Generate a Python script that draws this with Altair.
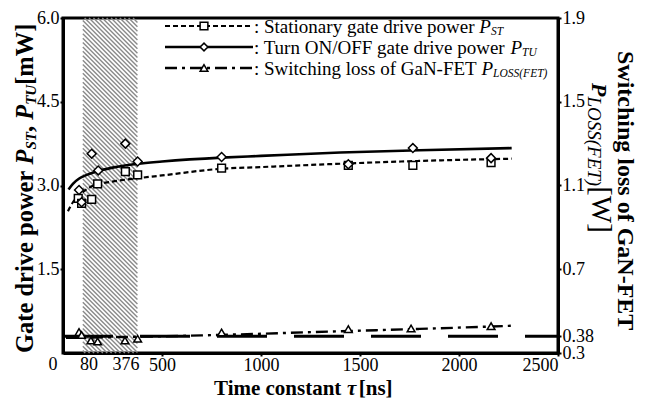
import math
import altair as alt
import pandas as pd

FONT = "Liberation Serif"

# ---------------- data ----------------
tau_st_pts = [77, 94, 145, 175, 315, 377, 801, 1441, 1767, 2162]
p_st_pts = [2.77, 2.68, 2.75, 3.03, 3.25, 3.19, 3.31, 3.36, 3.36, 3.41]
tau_tu_pts = [81, 94, 145, 178, 315, 377, 801, 1441, 1767, 2162]
p_tu_pts = [2.92, 2.70, 3.57, 3.27, 3.75, 3.43, 3.51, 3.38, 3.67, 3.49]
tau_loss_pts = [81, 94, 141, 175, 313, 377, 801, 1441, 1758, 2162]
p_loss_pts = [0.400, 0.386, 0.360, 0.355, 0.360, 0.368, 0.398, 0.414, 0.417, 0.428]

tau_st_fit = [25, 50, 80, 115, 153, 250, 377, 500, 800, 1000, 1400, 1800, 2266]
p_st_fit = [2.54, 2.70, 2.82, 2.92, 3.00, 3.07, 3.13, 3.18, 3.30, 3.33, 3.39, 3.44, 3.48]
tau_tu_fit = [28, 50, 80, 120, 160, 250, 377, 500, 800, 1000, 1400, 1800, 2266]
p_tu_fit = [2.93, 3.03, 3.12, 3.19, 3.24, 3.32, 3.39, 3.43, 3.50, 3.53, 3.59, 3.63, 3.67]
tau_loss_fit = [15, 200, 400, 700, 1000, 1400, 1800, 2266]
p_loss_fit = [0.372, 0.375, 0.378, 0.384, 0.392, 0.404, 0.415, 0.430]

ref_loss = [0.38]
shade_tau = [100, 376]

x_ticks = [500, 1000, 1500, 2000, 2500]
extra_x_labels = ["0", "80", "376"]
yl_ticks = [1.5, 3.0, 4.5, 6.0]
yr_ticks = [0.3, 0.38, 0.7, 1.1, 1.5, 1.9]

XDOM = [0, 2500]
YLDOM = [0, 6]
YRDOM = [0.3, 1.9]

# ---------------- layout ----------------
W, H = 495, 335
TOP = 10                     # padding above the plot area
PY = -(TOP + 8)              # add to a page y to get a plot y
xs = alt.Scale(domain=XDOM, nice=False, zero=False)
ysl = alt.Scale(domain=YLDOM, nice=False, zero=False)
ysr = alt.Scale(domain=YRDOM, nice=False, zero=False)

# font metrics (Times-compatible) for composing rich text
REG = {" ": 250, ":": 278, "/": 278, "-": 333, "[": 333, "]": 333, "(": 333, ")": 333,
       "S": 556, "T": 611, "O": 722, "N": 722, "F": 556, "G": 722, "E": 611, "W": 944,
       "a": 444, "c": 444, "d": 500, "e": 444, "f": 333, "g": 500, "h": 500, "i": 278,
       "l": 278, "n": 500, "o": 500, "p": 500, "r": 333, "s": 389, "t": 278, "u": 500,
       "v": 500, "w": 722, "y": 500}
BOLD = {" ": 250, ",": 250, "-": 333, "[": 333, "]": 333, "G": 778, "N": 722, "F": 611,
        "E": 667, "T": 667, "S": 556, "W": 1000, "a": 500, "c": 444, "d": 556, "e": 444,
        "f": 333, "g": 500, "h": 556, "i": 278, "l": 278, "m": 833, "n": 556, "o": 500,
        "p": 556, "r": 444, "s": 389, "t": 333, "v": 500, "w": 722}
ITAL = {"P": 611, "S": 500, "T": 556, "U": 722, "L": 556, "O": 722, "F": 611, "E": 611,
        "(": 333, ")": 333}
BITAL = {"P": 611, "S": 556, "T": 611, "U": 722, "τ": 560}


def tw(s, weight, style, size):
    if weight == "bold" and style == "italic":
        tab = BITAL
    elif weight == "bold":
        tab = BOLD
    elif style == "italic":
        tab = ITAL
    else:
        tab = REG
    return sum(tab.get(ch, 500) for ch in s) * size / 1000.0


def txt(s, x, y, size, weight="normal", style="normal", angle=0, align="left",
        baseline="alphabetic"):
    return alt.Chart(pd.DataFrame({"t": [s]})).mark_text(
        font=FONT, fontSize=size, fontWeight=weight, fontStyle=style, angle=angle,
        align=align, baseline=baseline, color="black"
    ).encode(x=alt.value(x), y=alt.value(y), text="t:N")


def compose(segs, x0, y0, angle=0):
    ra = math.radians(angle)
    r = (math.cos(ra), math.sin(ra))
    d = (-math.sin(ra), math.cos(ra))
    out, s = [], 0.0
    for (t, size, weight, style, shift) in segs:
        x = x0 + s * r[0] + shift * d[0]
        y = y0 + s * r[1] + shift * d[1]
        out.append(txt(t, round(x, 2), round(y, 2), size, weight, style, angle))
        s += tw(t, weight, style, size)
    return out


# ---------------- axes (same object in every layer of a group) ----------------
x_axis = alt.Axis(values=x_ticks, title=None, format="d", labelFont=FONT,
                  labelFontSize=18, tickSize=3, labelPadding=0, domainWidth=3,
                  tickWidth=2, grid=False)
yl_axis = alt.Axis(values=yl_ticks, title=None, orient="left",
                   labelExpr="format(datum.value, '.1f')", labelFont=FONT,
                   labelFontSize=18, tickSize=3, labelPadding=1, domainWidth=3,
                   tickWidth=2, grid=False)
yr_axis = alt.Axis(values=yr_ticks, title=None, orient="right",
                   labelExpr="datum.value == 0.38 ? '0.38' : format(datum.value, '.1f')",
                   labelFont=FONT, labelFontSize=18, tickSize=3, labelPadding=1,
                   domainWidth=3, tickWidth=2, labelOverlap=False, grid=False)

XE = dict(scale=xs, axis=x_axis)
YLE = dict(scale=ysl, axis=yl_axis)
YRE = dict(scale=ysr, axis=yr_axis)

# ---------------- hatched band ----------------
sx, sy = W / (XDOM[1] - XDOM[0]), H / (YLDOM[1] - YLDOM[0])
xa, xb = shade_tau[0] * sx, shade_tau[1] * sx
hatch = []
c = -xb
while c < H - xa:
    x1, x2 = max(xa, -c), min(xb, H - c)
    if x2 > x1:
        hatch.append({"tau": x1 / sx, "tau2": x2 / sx,
                      "p": YLDOM[1] - (x1 + c) / sy, "p2": YLDOM[1] - (x2 + c) / sy})
    c += 4.4
hatch_df = pd.DataFrame(hatch)

hatch_layer = alt.Chart(hatch_df).mark_rule(color="#8a8a8a", strokeWidth=1.4).encode(
    x=alt.X("tau:Q", **XE), x2="tau2:Q",
    y=alt.Y("p:Q", **YLE), y2="p2:Q")

st_fit_df = pd.DataFrame({"tau": tau_st_fit, "p": p_st_fit})
tu_fit_df = pd.DataFrame({"tau": tau_tu_fit, "p": p_tu_fit})
st_df = pd.DataFrame({"tau": tau_st_pts, "p": p_st_pts})
tu_df = pd.DataFrame({"tau": tau_tu_pts, "p": p_tu_pts})

st_line = alt.Chart(st_fit_df).mark_line(
    color="black", strokeWidth=2.2, strokeDash=[5, 3], interpolate="monotone").encode(
    x=alt.X("tau:Q", **XE), y=alt.Y("p:Q", **YLE))
tu_line = alt.Chart(tu_fit_df).mark_line(
    color="black", strokeWidth=2.6, interpolate="monotone").encode(
    x=alt.X("tau:Q", **XE), y=alt.Y("p:Q", **YLE))
st_pts = alt.Chart(st_df).mark_point(
    shape="square", size=60, filled=True, fill="white", stroke="black",
    strokeWidth=1.5, opacity=1).encode(
    x=alt.X("tau:Q", **XE), y=alt.Y("p:Q", **YLE))
tu_pts = alt.Chart(tu_df).mark_point(
    shape="diamond", size=80, filled=True, fill="white", stroke="black",
    strokeWidth=1.5, opacity=1).encode(
    x=alt.X("tau:Q", **XE), y=alt.Y("p:Q", **YLE))

left = alt.layer(hatch_layer, st_line, tu_line, st_pts, tu_pts)

ref_df = pd.DataFrame({"tau": [XDOM[0]], "tau2": [XDOM[1]], "w": ref_loss})
loss_fit_df = pd.DataFrame({"tau": tau_loss_fit, "w": p_loss_fit})
loss_df = pd.DataFrame({"tau": tau_loss_pts, "w": p_loss_pts})

ref_line = alt.Chart(ref_df).mark_rule(color="black", strokeWidth=3,
                                       strokeDash=[50, 27]).encode(
    x=alt.X("tau:Q", **XE), x2="tau2:Q",
    y=alt.Y("w:Q", **YRE))
loss_line = alt.Chart(loss_fit_df).mark_line(
    color="black", strokeWidth=2.4, strokeDash=[12, 5, 3, 5],
    interpolate="monotone").encode(
    x=alt.X("tau:Q", **XE), y=alt.Y("w:Q", **YRE))
loss_pts = alt.Chart(loss_df).mark_point(
    shape="triangle-up", size=60, filled=True, fill="white", stroke="black",
    strokeWidth=1.5, opacity=1).encode(
    x=alt.X("tau:Q", **XE), y=alt.Y("w:Q", **YRE))

right = alt.layer(ref_line, loss_line, loss_pts)

# ---------------- text: labels, titles, legend ----------------
texts = []
# extra x tick labels (0, 80, 376)
for lab, px in zip(extra_x_labels, [-10, 26, 63]):
    texts.append(txt(lab, px, H + 3, 18, align="center", baseline="top"))

# x title
texts += compose([("Time constant ", 21, "bold", "normal", 0),
                  ("τ", 21, "bold", "italic", 0),
                  (" [ns]", 21, "bold", "normal", 0)], 151, 394.5 + PY)

# left title (reads bottom -> top)
texts += compose([("Gate drive power ", 24.5, "bold", "normal", 0),
                  ("P", 24.5, "bold", "italic", 0),
                  ("ST", 15, "bold", "italic", 3),
                  (", ", 24.5, "bold", "normal", 0),
                  ("P", 24.5, "bold", "italic", 0),
                  ("TU", 15, "bold", "italic", 3),
                  (" [mW]", 24.5, "bold", "normal", 0)], -30, 353 + PY, angle=270)

# right title, two lines (reads top -> bottom)
texts += compose([("Switching loss of GaN-FET", 24, "bold", "normal", 0)],
                 555, 51 + PY, angle=90)
texts += compose([("P", 22, "bold", "italic", 0),
                  ("LOSS(FET)", 19, "normal", "italic", 4),
                  (" [W]", 29, "normal", "normal", 0)], 529, 83 + PY, angle=90)

# legend
rows = [26 + PY, 47 + PY, 68 + PY]
leg_df = pd.DataFrame({"k": [0]})
dashes = [[5, 3], None, [12, 5, 3, 5]]
shapes = ["square", "diamond", "triangle-up"]
widths = [2.2, 2.6, 2.4]
for ry, dsh, shp, sw in zip(rows, dashes, shapes, widths):
    kw = dict(color="black", strokeWidth=sw)
    if dsh:
        kw["strokeDash"] = dsh
    texts.append(alt.Chart(leg_df).mark_rule(**kw).encode(
        x=alt.value(102), x2=alt.value(190), y=alt.value(ry)))
    texts.append(alt.Chart(leg_df).mark_point(
        shape=shp, size=60, filled=True, fill="white", stroke="black",
        strokeWidth=1.5, opacity=1).encode(x=alt.value(141), y=alt.value(ry)))

leg_text = [
    (": Stationary gate drive power ", "ST"),
    (": Turn ON/OFF gate drive power ", "TU"),
    (": Switching loss of GaN-FET ", "LOSS(FET)"),
]
for ry, (main, sub) in zip(rows, leg_text):
    texts += compose([(main, 19, "normal", "normal", 0),
                      ("P", 19, "normal", "italic", 0),
                      (sub, 11.5, "normal", "italic", 2)], 191, ry + 6.5)

chart = alt.layer(left, right, *texts).resolve_scale(y="independent").properties(
    width=W, height=H,
    autosize=alt.AutoSizeParams(type="none"),
    padding={"left": 55, "top": TOP, "right": 81, "bottom": 391 - TOP - H},
).configure_view(stroke="black", strokeWidth=3).configure_axis(
    labelColor="black", tickColor="black", domainColor="black", grid=False)

chart.save("out.html", embed_options={"renderer": "svg", "actions": False})
